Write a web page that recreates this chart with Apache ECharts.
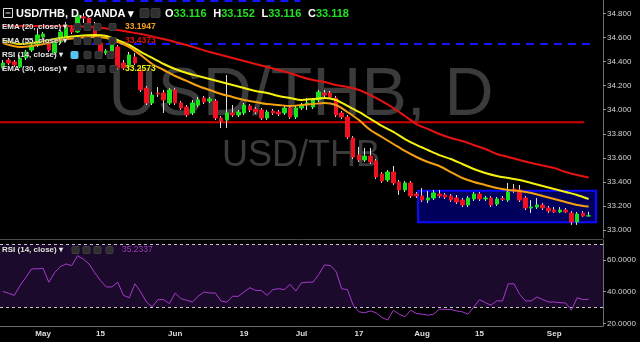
<!DOCTYPE html>
<html><head><meta charset="utf-8">
<script src="https://cdn.jsdelivr.net/npm/echarts@6/dist/echarts.min.js"></script>
<style>html,body{margin:0;padding:0;background:#000;}#c{width:640px;height:342px;}</style>
</head><body><div id="c"></div>
<script>
const categories = ['2017-04-20','2017-04-21','2017-04-24','2017-04-25','2017-04-26','2017-04-27','2017-04-28',
'2017-05-01','2017-05-02','2017-05-03','2017-05-04','2017-05-05','2017-05-08','2017-05-09','2017-05-10','2017-05-11','2017-05-12',
'2017-05-15','2017-05-16','2017-05-17','2017-05-18','2017-05-19','2017-05-22','2017-05-23','2017-05-24','2017-05-25','2017-05-26',
'2017-05-29','2017-05-30','2017-05-31','2017-06-01','2017-06-02','2017-06-05','2017-06-06','2017-06-07','2017-06-08','2017-06-09',
'2017-06-12','2017-06-13','2017-06-14','2017-06-15','2017-06-16','2017-06-19','2017-06-20','2017-06-21','2017-06-22','2017-06-23',
'2017-06-26','2017-06-27','2017-06-28','2017-06-29','2017-06-30','2017-07-03','2017-07-04','2017-07-05','2017-07-06','2017-07-07',
'2017-07-10','2017-07-11','2017-07-12','2017-07-13','2017-07-14','2017-07-17','2017-07-18','2017-07-19','2017-07-20','2017-07-21',
'2017-07-24','2017-07-25','2017-07-26','2017-07-27','2017-07-28','2017-07-31','2017-08-01','2017-08-02','2017-08-03','2017-08-04',
'2017-08-07','2017-08-08','2017-08-09','2017-08-10','2017-08-11','2017-08-14','2017-08-15','2017-08-16','2017-08-17','2017-08-18',
'2017-08-21','2017-08-22','2017-08-23','2017-08-24','2017-08-25','2017-08-28','2017-08-29','2017-08-30','2017-08-31','2017-09-01',
'2017-09-04','2017-09-05','2017-09-06','2017-09-07','2017-09-08','2017-09-11','2017-09-12','2017-09-13'];

const tickCats = ['2017-05-01','2017-05-15','2017-06-01','2017-06-19','2017-07-03','2017-07-17','2017-08-01','2017-08-15','2017-09-01'];
const tickNames = ['May','15','Jun','19','Jul','17','Aug','15','Sep'];
const priceTicks = [33.0,33.2,33.4,33.6,33.8,34.0,34.2,34.4,34.6,34.8];
const rsiTicks = [20,40,60];

const opens = [34.347,34.413,34.397,34.355,34.430,34.496,34.538,34.604,34.563,34.471,
34.563,34.604,34.679,34.646,34.771,34.762,34.687,34.554,34.471,34.471,
34.521,34.388,34.355,34.438,34.330,34.180,34.056,34.139,34.139,34.056,
34.164,34.056,34.022,33.973,34.039,34.097,34.072,34.072,33.931,33.914,
33.973,33.956,33.973,34.031,34.006,33.998,33.931,33.989,33.981,33.973,
34.014,33.939,34.014,34.047,34.022,34.081,34.139,34.139,34.097,33.973,
33.939,33.765,33.623,33.582,33.615,33.574,33.466,33.416,33.482,33.399,
33.333,33.391,33.299,33.283,33.249,33.266,33.299,33.291,33.283,33.266,
33.249,33.208,33.258,33.299,33.258,33.266,33.216,33.262,33.249,33.341,
33.333,33.266,33.183,33.191,33.208,33.183,33.166,33.150,33.166,33.141,
33.067,33.141,33.116];
const closes = [34.388,34.388,34.372,34.430,34.480,34.538,34.621,34.629,34.496,34.563,
34.646,34.704,34.646,34.787,34.762,34.696,34.604,34.471,34.488,34.538,
34.347,34.347,34.455,34.388,34.164,34.056,34.122,34.131,34.081,34.164,
34.056,34.014,33.956,34.056,34.081,34.064,34.089,33.931,33.906,33.973,
33.956,33.981,34.039,33.998,33.981,33.931,33.981,33.973,33.964,34.014,
33.939,34.014,34.039,34.056,34.081,34.147,34.122,34.106,33.956,33.939,
33.773,33.607,33.582,33.615,33.565,33.441,33.407,33.482,33.391,33.333,
33.391,33.283,33.283,33.249,33.266,33.308,33.283,33.274,33.249,33.233,
33.208,33.266,33.299,33.258,33.266,33.208,33.258,33.255,33.316,33.324,
33.249,33.183,33.191,33.208,33.183,33.158,33.150,33.166,33.150,33.067,
33.133,33.116,33.118];
const lows = [34.330,34.372,34.355,34.347,34.413,34.480,34.521,34.579,34.480,34.455,
34.546,34.596,34.629,34.638,34.721,34.679,34.588,34.455,34.455,34.455,
34.330,34.330,34.338,34.372,34.147,34.039,34.039,34.106,33.973,34.039,
34.039,33.998,33.939,33.956,34.022,34.047,34.056,33.914,33.848,33.848,
33.939,33.939,33.956,33.981,33.964,33.914,33.914,33.956,33.948,33.956,
33.923,33.923,33.998,33.998,34.006,34.064,34.106,34.089,33.939,33.923,
33.756,33.590,33.565,33.565,33.549,33.424,33.391,33.399,33.374,33.291,
33.316,33.266,33.266,33.233,33.224,33.249,33.266,33.258,33.233,33.216,
33.191,33.191,33.241,33.241,33.241,33.191,33.200,33.241,33.233,33.308,
33.233,33.166,33.141,33.175,33.166,33.141,33.141,33.141,33.141,33.042,
33.042,33.108,33.116];
const highs = [34.413,34.430,34.413,34.455,34.496,34.554,34.679,34.646,34.579,34.579,
34.663,34.729,34.704,34.812,34.804,34.787,34.729,34.579,34.504,34.554,
34.538,34.413,34.480,34.471,34.347,34.197,34.147,34.189,34.164,34.180,
34.180,34.072,34.039,34.081,34.106,34.114,34.106,34.089,33.948,34.288,
34.039,33.998,34.056,34.047,34.022,34.014,33.998,34.006,33.998,34.031,
34.031,34.031,34.056,34.097,34.097,34.164,34.164,34.156,34.114,33.989,
33.956,33.781,33.690,33.682,33.682,33.590,33.482,33.499,33.532,33.416,
33.407,33.407,33.316,33.349,33.324,33.333,33.333,33.308,33.299,33.291,
33.266,33.283,33.316,33.316,33.283,33.283,33.274,33.283,33.391,33.382,
33.374,33.283,33.249,33.266,33.224,33.200,33.191,33.191,33.183,33.158,
33.150,33.158,33.152];

const emaAt = [0,3,5,8,10,13,16,18,20,22,24,26,28,30,32,34,36,38,40,42,44,46,48,50,52,54,56,58,60,62,64,66,68,70,72,74,76,78,80,82,84,86,88,90,92,94,96,98,100,102];
const ema20 = [34.554,34.521,34.530,34.554,34.579,34.596,34.604,34.596,34.563,34.521,34.455,34.380,34.330,34.280,34.239,34.197,34.164,34.131,34.106,34.081,34.064,34.047,34.039,34.031,34.039,34.047,34.056,34.039,33.981,33.914,33.831,33.773,33.715,33.657,33.607,33.565,33.532,33.482,33.432,33.399,33.374,33.349,33.333,33.324,33.308,33.283,33.258,33.233,33.208,33.1947];
const ema30 = [34.579,34.546,34.554,34.579,34.596,34.613,34.621,34.613,34.579,34.538,34.480,34.430,34.380,34.338,34.305,34.280,34.255,34.230,34.205,34.180,34.155,34.139,34.114,34.097,34.081,34.089,34.097,34.081,34.031,33.981,33.923,33.865,33.815,33.756,33.707,33.665,33.623,33.590,33.549,33.507,33.474,33.449,33.432,33.416,33.391,33.366,33.341,33.316,33.291,33.2573];
const ema55 = [34.696,34.696,34.696,34.696,34.696,34.692,34.687,34.675,34.663,34.646,34.629,34.608,34.588,34.563,34.538,34.509,34.480,34.455,34.430,34.405,34.380,34.355,34.330,34.305,34.272,34.247,34.230,34.205,34.189,34.164,34.122,34.072,34.014,33.948,33.881,33.840,33.798,33.765,33.740,33.707,33.673,33.632,33.607,33.582,33.557,33.536,33.515,33.482,33.457,33.4373];

const rsi = [40.2,39,37.7,44,49,54.4,54.4,54.8,46,52,
55.8,57.5,56.5,62.7,60.6,57.5,52,47,43,43,
46,37.7,36.2,45,39.8,33.5,30.4,35,35,32.5,
39.2,35.6,34.6,33.5,37.1,39.8,39.2,39.2,34,33.5,
37.1,37.1,39.8,42.5,40.8,40.8,37.7,41.3,41.9,41.3,
44.6,40.4,45.6,46,46,50.8,56.9,56.5,52.9,41.9,
41.3,31.5,27.3,26.7,27.9,26.7,23.8,22.1,28.3,25.8,
24.2,28.3,26.3,25.8,25.2,25.8,29,28.8,28.8,27.9,
27.3,25.8,30.4,35,33.1,31.5,34.2,34.2,45,45,
38.3,34.2,34.2,36.7,35,33.5,33.5,33.1,32.9,28.3,
36.2,35,35.2337];
const rsiBand = [30, 70];

// drawings (price levels, in data units: [fromIndex, toIndex, price])
const redLevel = [-0.5, 101.2, 33.895];
const blueLevel = [15.5, 103.3, 34.546];
const blueTopLevel = [14.2, 51.8, 34.904];
const box = [72.3, 33.327, 103.3, 33.064];

const N = categories.length;
const FONT = "'Liberation Sans', Arial, sans-serif";
const wickData = opens.map((o, i) => [o, closes[i], lows[i], highs[i]]);
const bodyData = opens.map((o, i) => [o, closes[i], Math.min(o, closes[i]), Math.max(o, closes[i])]);
const sparse = arr => emaAt.map((ix, k) => [ix, arr[k]]);
const lastClose = closes[closes.length - 1];

const chart = echarts.init(document.getElementById('c'), null, {renderer: 'canvas'});

function iconBoxes(xs, y, size, first) {
  return xs.map((x, k) => ({type: 'rect', z: 100, shape: {x: x, y: y - size / 2, width: size, height: size, r: 1},
    style: {fill: (first && k === 0) ? '#56c4ec' : '#2f2f2f', stroke: (first && k === 0) ? '#56c4ec' : '#3d3d3d', lineWidth: 1}}));
}
function legendText(x, y, text, size, color, weight) {
  return {type: 'text', z: 100, x: x, y: y, style: {text: text, fill: color, font: (weight || 'bold') + ' ' + size + 'px ' + FONT, verticalAlign: 'middle', textShadowColor: '#000', textShadowBlur: 2}};
}

const graphics = [
  {type: 'text', z: 0, x: 301, y: 96, style: {text: 'USD/THB, D', fill: '#3b3b3b', font: '68px ' + FONT, align: 'center', verticalAlign: 'middle'}},
  {type: 'text', z: 0, x: 301, y: 156, style: {text: 'USD/THB', fill: '#3b3b3b', font: '36px ' + FONT, align: 'center', verticalAlign: 'middle'}},
  {type: 'line', z: 50, shape: {x1: 0, y1: 239.5, x2: 603, y2: 239.5}, style: {stroke: '#4a4a4a', lineWidth: 1}},
  {type: 'rect', z: 100, shape: {x: 3.5, y: 8.5, width: 9, height: 9}, style: {fill: 'none', stroke: '#dddddd', lineWidth: 1}},
  {type: 'line', z: 100, shape: {x1: 5.5, y1: 13, x2: 10.5, y2: 13}, style: {stroke: '#dddddd', lineWidth: 1}},
  legendText(16, 13.5, 'USD/THB, D, OANDA ▾', 11, '#ffffff'),
  ...iconBoxes([140, 151], 13, 9, false),
  {type: 'text', z: 100, x: 165, y: 13.5, style: {
    text: '{w|O}{g|' + opens[opens.length-1].toFixed(3) + '}  {w|H}{g|' + highs[highs.length-1].toFixed(3) + '}  {w|L}{g|' + lows[lows.length-1].toFixed(3) + '}  {w|C}{g|' + lastClose.toFixed(3) + '}',
    verticalAlign: 'middle',
    rich: {w: {fill: '#ffffff', font: 'bold 11px ' + FONT}, g: {fill: '#22e022', font: 'bold 11px ' + FONT}}}},
  legendText(2, 27, 'EMA (20, close) ▾', 8, '#e6e6e6'),
  ...iconBoxes([74, 84, 94, 109], 27, 7, false),
  legendText(125, 27, ema20[ema20.length-1].toFixed(4), 8.5, '#f5a21c'),
  legendText(2, 41, 'EMA (55, close) ▾', 8, '#e6e6e6'),
  ...iconBoxes([74, 84, 94, 109], 41, 7, false),
  legendText(125, 41, ema55[ema55.length-1].toFixed(4), 8.5, '#e01010'),
  legendText(2, 55, 'RSI (14, close) ▾', 8, '#e6e6e6'),
  ...iconBoxes([71, 84, 95, 107], 55, 7, true),
  legendText(2, 69, 'EMA (30, close) ▾', 8, '#e6e6e6'),
  ...iconBoxes([77, 87, 98, 110], 69, 7, false),
  legendText(125, 69, ema30[ema30.length-1].toFixed(4), 8.5, '#f2f20a'),
  legendText(2, 250, 'RSI (14, close) ▾', 8, '#e6e6e6'),
  ...iconBoxes([72, 83, 94, 106], 250, 7, false),
  legendText(122, 250, rsi[rsi.length-1].toFixed(4), 8.5, '#a23dc6', 'normal')
];

const option = {
  backgroundColor: '#000000',
  animation: false,
  textStyle: {fontFamily: FONT},
  grid: [
    {left: -3, right: 37, top: 0, height: 238},
    {left: -3, right: 37, top: 240, height: 86}
  ],
  xAxis: [
    {type: 'category', gridIndex: 0, data: categories, boundaryGap: true, show: false},
    {type: 'category', gridIndex: 1, data: categories, boundaryGap: true,
      axisLine: {show: true, onZero: false, lineStyle: {color: '#6d6d6d', width: 1}},
      axisTick: {show: false}, splitLine: {show: false},
      axisLabel: {interval: (i, v) => tickCats.indexOf(v) >= 0, formatter: v => tickNames[tickCats.indexOf(v)],
        color: '#dedede', fontSize: 8, fontWeight: 'bold', margin: 4}},
    {type: 'value', gridIndex: 0, min: -0.5, max: N - 0.5, show: false}
  ],
  yAxis: [
    {type: 'value', gridIndex: 0, position: 'right', min: 32.9335, max: 34.912, scale: true,
      axisLine: {show: true, onZero: false, lineStyle: {color: '#6d6d6d', width: 1}},
      axisTick: {show: true, customValues: priceTicks, length: 3, lineStyle: {color: '#9a9a9a'}},
      axisLabel: {customValues: priceTicks, formatter: v => v.toFixed(3), color: '#d6d6d6', fontSize: 8, margin: 4},
      splitLine: {show: false}},
    {type: 'value', gridIndex: 1, position: 'right', min: 18.36, max: 72.62, scale: true,
      axisLine: {show: true, onZero: false, lineStyle: {color: '#6d6d6d', width: 1}},
      axisTick: {show: true, customValues: rsiTicks, length: 3, lineStyle: {color: '#9a9a9a'}},
      axisLabel: {customValues: rsiTicks, formatter: v => v.toFixed(4), color: '#d6d6d6', fontSize: 8, margin: 4},
      splitLine: {show: false}}
  ],
  series: [
    {type: 'line', xAxisIndex: 2, yAxisIndex: 0, data: [], z: 1, silent: true,
      markArea: {silent: true, itemStyle: {color: '#00005c', borderColor: '#0b0bff', borderWidth: 2},
        data: [[{coord: [box[0], box[1]]}, {coord: [box[2], box[3]]}]]}},
    {type: 'line', xAxisIndex: 2, yAxisIndex: 0, z: 2, silent: true, showSymbol: false,
      data: [[redLevel[0], redLevel[2]], [redLevel[1], redLevel[2]]], lineStyle: {color: '#d10000', width: 2}},
    {type: 'line', xAxisIndex: 2, yAxisIndex: 0, z: 2, silent: true, showSymbol: false,
      data: [[blueLevel[0], blueLevel[2]], [blueLevel[1], blueLevel[2]]], lineStyle: {color: '#1414ff', width: 2, type: [8, 6]}},
    {type: 'line', xAxisIndex: 2, yAxisIndex: 0, z: 2, silent: true, showSymbol: false,
      data: [[blueTopLevel[0], blueTopLevel[2]], [blueTopLevel[1], blueTopLevel[2]]], lineStyle: {color: '#1414ff', width: 2, type: [8, 6]}},
    {type: 'candlestick', xAxisIndex: 0, yAxisIndex: 0, data: wickData, barWidth: 1, z: 3, silent: true,
      itemStyle: {color: '#e0e0e0', color0: '#e0e0e0', borderColor: '#e0e0e0', borderColor0: '#e0e0e0', borderColorDoji: '#e0e0e0', borderWidth: 1}},
    {type: 'candlestick', xAxisIndex: 0, yAxisIndex: 0, data: bodyData, barWidth: 4, z: 4, silent: true,
      itemStyle: {color: '#18e418', color0: '#f01020', borderColor: '#18e418', borderColor0: '#f01020', borderColorDoji: '#e0e0e0', borderWidth: 1},
      markLine: {silent: true, symbol: 'none', lineStyle: {opacity: 0},
        label: {show: true, position: 'end', distance: 1, formatter: () => lastClose.toFixed(3), backgroundColor: '#00f000',
          color: '#c8ffc8', fontSize: 8, lineHeight: 9, padding: [1, 6, 1, 6]},
        data: [{yAxis: lastClose}]}},
    {type: 'line', xAxisIndex: 2, yAxisIndex: 0, z: 5, silent: true, showSymbol: false, smooth: 0.3,
      data: sparse(ema55), lineStyle: {color: '#e61212', width: 2}},
    {type: 'line', xAxisIndex: 2, yAxisIndex: 0, z: 5, silent: true, showSymbol: false, smooth: 0.3,
      data: sparse(ema30), lineStyle: {color: '#f4f20c', width: 2}},
    {type: 'line', xAxisIndex: 2, yAxisIndex: 0, z: 5, silent: true, showSymbol: false, smooth: 0.3,
      data: sparse(ema20), lineStyle: {color: '#f5a00f', width: 2}},
    {type: 'line', xAxisIndex: 1, yAxisIndex: 1, z: 5, silent: true, showSymbol: false,
      data: rsi, lineStyle: {color: '#a63acb', width: 1},
      markArea: {silent: true, itemStyle: {color: '#1c0a2c'}, data: [[{yAxis: rsiBand[0]}, {yAxis: rsiBand[1]}]]},
      markLine: {silent: true, symbol: 'none', label: {show: false}, lineStyle: {color: '#c4c4c4', width: 1, type: [3, 3]},
        data: [{yAxis: rsiBand[1]}, {yAxis: rsiBand[0]}]}}
  ],
  graphic: {elements: graphics}
};
chart.setOption(option);
</script></body></html>
